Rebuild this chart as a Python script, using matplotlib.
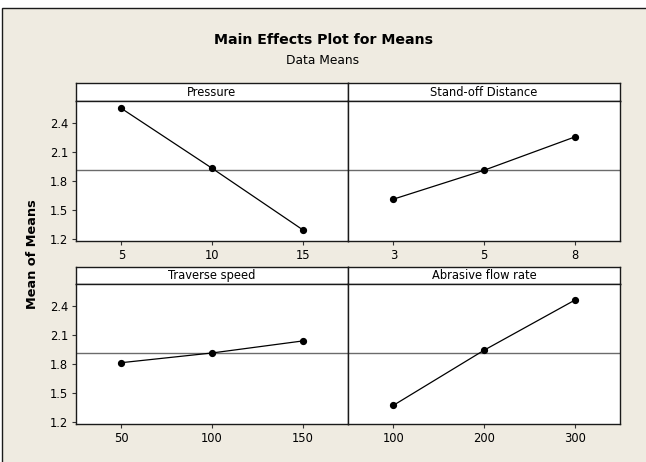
import matplotlib
matplotlib.use("Agg")
import matplotlib.pyplot as plt
from matplotlib.patches import Rectangle

# ---- data ----
pressure_levels = ['5', '10', '15']
pressure_means = [2.547, 1.930, 1.296]
standoff_levels = ['3', '5', '8']
standoff_means = [1.611, 1.909, 2.252]
traverse_levels = ['50', '100', '150']
traverse_means = [1.812, 1.912, 2.036]
flow_levels = ['100', '200', '300']
flow_means = [1.372, 1.940, 2.456]
grand_mean = 1.91
y_ticks = [1.2, 1.5, 1.8, 2.1, 2.4]
y_ticklabels = ['1.2', '1.5', '1.8', '2.1', '2.4']

panels = [
    ('Pressure', pressure_levels, pressure_means),
    ('Stand-off Distance', standoff_levels, standoff_means),
    ('Traverse speed', traverse_levels, traverse_means),
    ('Abrasive flow rate', flow_levels, flow_means),
]

plt.rcParams['font.family'] = ['DejaVu Sans']
W, H = 646, 462
fig = plt.figure(figsize=(W / 100, H / 100), dpi=100, facecolor='white')

BG = '#EFEBE1'
# outer frame
fig.patches.append(Rectangle((2 / W, -0.05), 1.1, 1 - 8 / H + 0.05,
                             transform=fig.transFigure, facecolor=BG,
                             edgecolor='#1a1a1a', linewidth=1.0, zorder=-10))


def fbox(x0, x1, ytop, ybot):
    return [x0 / W, 1 - ybot / H, (x1 - x0) / W, (ybot - ytop) / H]


cols = [(76, 348), (348, 620)]
rows = [((83, 101), (101, 241)), ((267, 284), (284, 424))]

for i, (name, levels, means) in enumerate(panels):
    r, c = divmod(i, 2)
    x0, x1 = cols[c]
    (st, sb), (pt, pb) = rows[r]
    # strip
    sax = fig.add_axes(fbox(x0, x1, st, sb))
    sax.set_facecolor('white')
    sax.set_xticks([]); sax.set_yticks([])
    for sp in sax.spines.values():
        sp.set_linewidth(1.0); sp.set_color('#1a1a1a')
    sax.text(0.5, 0.5, name, ha='center', va='center', fontsize=8.3,
             transform=sax.transAxes)
    # plot
    ax = fig.add_axes(fbox(x0, x1, pt, pb))
    ax.set_facecolor('white')
    xs = list(range(len(levels)))
    ax.axhline(grand_mean, color='#6b6b6b', lw=1.0, zorder=1)
    ax.plot(xs, means, color='black', lw=0.9, marker='o', markersize=4.2,
            zorder=3)
    ax.set_xlim(-0.5, 2.5)
    ax.set_ylim(1.18, 2.623)
    ax.set_xticks(xs)
    ax.set_xticklabels(levels)
    ax.set_yticks(y_ticks)
    ax.set_yticklabels(y_ticklabels)
    ax.tick_params(direction='out', length=3, width=0.8, labelsize=8.3,
                   pad=2.5, color='#333333')
    if c == 1:
        ax.tick_params(axis='y', left=False, labelleft=False)
    for sp in ax.spines.values():
        sp.set_linewidth(1.0); sp.set_color('#1a1a1a')

fig.text(323 / W, 1 - 40 / H, 'Main Effects Plot for Means', ha='center',
         va='center', fontsize=10.2, fontweight='bold')
fig.text(323 / W, 1 - 61 / H, 'Data Means', ha='center', va='center',
         fontsize=8.8)
fig.text(32 / W, 1 - 254 / H, 'Mean of Means', ha='center', va='center',
         rotation=90, fontsize=9.3, fontweight='bold')

fig.savefig('out.png', dpi=100, facecolor='white')
